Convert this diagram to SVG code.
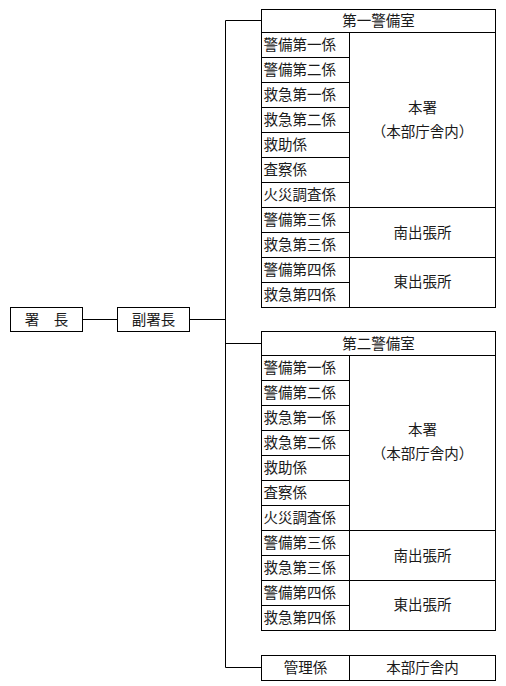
<svg xmlns="http://www.w3.org/2000/svg" width="506" height="686" viewBox="0 0 506 686">
<style>
.b{fill:#fff;stroke:#000;stroke-width:1}
.l{fill:none;stroke:#000;stroke-width:1}
text{font-family:"Noto Sans CJK JP","Noto Sans CJK SC",sans-serif;font-size:14.5px;fill:#1a1a1a;dominant-baseline:central}
.c{text-anchor:middle}
</style>
<rect width="506" height="686" fill="#fff"/>
<g id="connectors" class="l">
<path d="M82.5 319.5H117.5M189.5 319.5H225.5M225.5 20.5V667.5M225.5 20.5H261.5M225.5 343.5H261.5M225.5 667.5H261.5"/>
</g>
<g id="chief"><rect class="b" x="10.5" y="307.5" width="72" height="24"/><text class="c" x="46.5" y="318">署　長</text></g>
<g id="deputy"><rect class="b" x="117.5" y="307.5" width="72" height="24"/><text class="c" x="153.5" y="318">副署長</text></g>
<g id="room1">
<rect class="b" x="261.5" y="9.5" width="234" height="298"/>
<path class="l" d="M261.5 32.5H495.5M349.5 32.5V307.5M261.5 57.5H349.5M261.5 82.5H349.5M261.5 107.5H349.5M261.5 132.5H349.5M261.5 157.5H349.5M261.5 182.5H349.5M261.5 207.5H495.5M261.5 232.5H349.5M261.5 257.5H495.5M261.5 282.5H349.5"/>
<text class="c" x="378.5" y="19.5">第一警備室</text>
<text x="263.5" y="43.5">警備第一係</text>
<text x="263.5" y="68.5">警備第二係</text>
<text x="263.5" y="93.5">救急第一係</text>
<text x="263.5" y="118.5">救急第二係</text>
<text x="263.5" y="143.5">救助係</text>
<text x="263.5" y="168.5">査察係</text>
<text x="263.5" y="193.5">火災調査係</text>
<text x="263.5" y="218.5">警備第三係</text>
<text x="263.5" y="243.5">救急第三係</text>
<text x="263.5" y="268.5">警備第四係</text>
<text x="263.5" y="293.5">救急第四係</text>
<text class="c" x="422.5" y="106.5">本署</text>
<text class="c" x="422.5" y="130.5">（本部庁舎内）</text>
<text class="c" x="422.5" y="231.5">南出張所</text>
<text class="c" x="422.5" y="280.5">東出張所</text>
</g>
<g id="room2">
<rect class="b" x="261.5" y="331.5" width="234" height="299"/>
<path class="l" d="M261.5 355.5H495.5M349.5 355.5V630.5M261.5 380.5H349.5M261.5 405.5H349.5M261.5 430.5H349.5M261.5 455.5H349.5M261.5 480.5H349.5M261.5 505.5H349.5M261.5 530.5H495.5M261.5 555.5H349.5M261.5 580.5H495.5M261.5 605.5H349.5"/>
<text class="c" x="378.5" y="342">第二警備室</text>
<text x="263.5" y="366.5">警備第一係</text>
<text x="263.5" y="391.5">警備第二係</text>
<text x="263.5" y="416.5">救急第一係</text>
<text x="263.5" y="441.5">救急第二係</text>
<text x="263.5" y="466.5">救助係</text>
<text x="263.5" y="491.5">査察係</text>
<text x="263.5" y="516.5">火災調査係</text>
<text x="263.5" y="541.5">警備第三係</text>
<text x="263.5" y="566.5">救急第三係</text>
<text x="263.5" y="591.5">警備第四係</text>
<text x="263.5" y="616.5">救急第四係</text>
<text class="c" x="422.5" y="428.5">本署</text>
<text class="c" x="422.5" y="452.5">（本部庁舎内）</text>
<text class="c" x="422.5" y="554.5">南出張所</text>
<text class="c" x="422.5" y="603.5">東出張所</text>
</g>
<g id="admin">
<rect class="b" x="261.5" y="655.5" width="234" height="25"/>
<path class="l" d="M349.5 655.5V680.5"/>
<text class="c" x="305.5" y="666.5">管理係</text>
<text class="c" x="422.5" y="666.5">本部庁舎内</text>
</g>
</svg>
